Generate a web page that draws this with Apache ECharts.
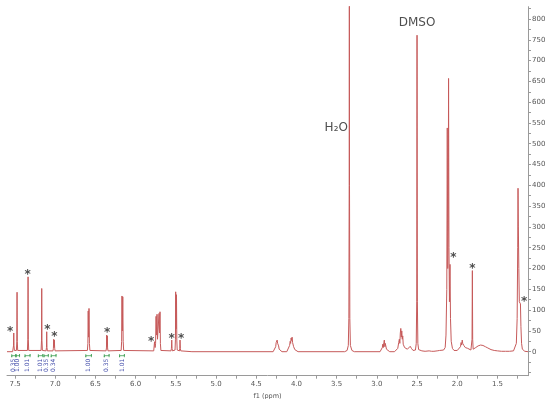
<!DOCTYPE html>
<html>
<head>
<meta charset="utf-8">
<script src="https://cdn.jsdelivr.net/npm/echarts@6/dist/echarts.min.js"></script>
<style>html,body{margin:0;padding:0;background:#fff}#c{width:550px;height:399px}</style>
</head>
<body>
<div id="c"></div>
<script>
// spectrum points [ppm, intensity]
const spectrum = [
[7.60,0],[7.53,0],
[7.524,3],[7.519,14],[7.516,45],[7.513,14],[7.508,3],
[7.483,3],[7.478,24],[7.475,143],[7.472,24],[7.467,3],
[7.346,3],[7.341,30],[7.338,180],[7.335,30],[7.330,3],
[7.176,3],[7.171,26],[7.168,152],[7.165,26],[7.160,3],
[7.114,2],[7.109,10],[7.106,48],[7.103,10],[7.098,2],
[7.028,2],[7.023,8],[7.019,30],[7.015,12],[7.011,28],[7.007,8],[7.002,2],
[6.600,3],[6.594,20],[6.590,98],[6.585,35],[6.580,104],[6.575,20],[6.569,3],
[6.368,2],[6.363,9],[6.360,40],[6.356,16],[6.352,38],[6.349,9],[6.344,2],
[6.180,3],[6.174,25],[6.170,134],[6.165,50],[6.160,132],[6.155,25],[6.149,3],
[5.775,2],[5.769,6],[5.765,24],[5.758,10],[5.752,20],[5.746,85],[5.740,40],[5.734,90],[5.728,30],[5.722,30],[5.716,32],[5.709,92],[5.703,45],[5.697,96],[5.692,20],[5.686,3],
[5.560,2],[5.555,8],[5.551,28],[5.547,8],[5.542,2],
[5.510,4],[5.505,30],[5.502,144],[5.497,55],[5.492,137],[5.488,28],[5.483,4],
[5.455,2],[5.451,8],[5.448,28],[5.444,8],[5.439,2],
[5.30,0],[4.29,0],[4.27,3],[4.258,12],[4.252,22],[4.246,18],[4.240,28],[4.234,20],[4.228,24],[4.222,14],[4.215,6],[4.20,2],[4.18,0],
[4.12,0],[4.10,4],[4.085,15],[4.078,25],[4.072,20],[4.066,33],[4.060,27],[4.054,35],[4.048,22],[4.042,25],[4.035,12],[4.02,5],[4.00,1],[3.98,0],
[3.40,0],[3.37,3],[3.355,15],[3.348,80],[3.344,400],[3.342,1000],[3.340,400],[3.336,80],[3.329,15],[3.31,3],[3.28,0],
[2.96,0],[2.94,3],[2.932,10],[2.926,18],[2.920,10],[2.913,22],[2.907,28],[2.900,12],[2.895,20],[2.888,16],[2.880,6],[2.86,2],[2.84,0],
[2.78,0],[2.76,3],[2.74,8],[2.728,22],[2.720,30],[2.714,20],[2.708,45],[2.702,56],[2.696,35],[2.690,50],[2.684,30],[2.678,38],[2.672,18],[2.665,22],[2.655,10],[2.64,12],[2.62,6],[2.60,10],[2.585,13],[2.57,8],[2.55,3],[2.53,2],
[2.52,4],[2.51,20],[2.504,120],[2.500,761],[2.496,120],[2.49,20],[2.48,5],[2.46,3],[2.44,2],
[2.40,1],[2.35,2],[2.32,1],[2.30,4],[2.29,1],[2.25,2],[2.22,3],[2.20,1],[2.17,4],
[2.15,10],[2.14,40],[2.13,150],[2.124,538],[2.118,200],[2.112,300],[2.108,657],[2.103,250],[2.097,120],[2.090,210],[2.084,80],[2.075,25],[2.06,8],[2.04,3],[2.02,2],
[2.00,3],[1.98,6],[1.96,12],[1.952,22],[1.945,16],[1.938,28],[1.932,20],[1.925,24],[1.918,15],[1.910,18],[1.900,10],[1.885,14],[1.87,8],[1.85,5],[1.83,4],
[1.822,6],[1.816,30],[1.812,195],[1.808,30],[1.802,6],
[1.79,6],[1.77,10],[1.74,14],[1.71,16],[1.68,15],[1.65,12],[1.62,9],[1.58,5],[1.54,3],[1.50,2],[1.45,1],[1.40,1],[1.35,1],[1.30,2],
[1.28,5],[1.265,20],[1.255,80],[1.248,250],[1.244,393],[1.240,300],[1.234,200],[1.228,120],[1.220,118],[1.214,115],[1.208,60],[1.200,20],[1.19,6],[1.18,3],[1.16,1],[1.12,0]
];
// asterisk marks [ppm, intensity]
const stars = [[7.562,54],[7.342,192],[7.098,59],[7.011,43],[6.356,52],[5.808,30],[5.551,38],[5.435,38],[2.048,232],[1.812,207],[1.169,127]];
// solvent labels [ppm, intensity, text]
const solventLabels = [[3.505,538,'H₂O'],[2.50,790,'DMSO']];
// integrals [from ppm, to ppm, value]
const integrals = [[7.541,7.490,'0.35'],[7.488,7.444,'1.00'],[7.376,7.313,'1.01'],[7.210,7.155,'1.01'],[7.140,7.086,'0.35'],[7.050,6.990,'0.34'],[6.620,6.550,'1.00'],[6.390,6.330,'0.35'],[6.200,6.140,'1.01']];
// axis ticks
const xLabels = [7.5,7.0,6.5,6.0,5.5,5.0,4.5,4.0,3.5,3.0,2.5,2.0,1.5];
const xTicks = [7.5,7.25,7.0,6.75,6.5,6.25,6.0,5.75,5.5,5.25,5.0,4.75,4.5,4.25,4.0,3.75,3.5,3.25,3.0,2.75,2.5,2.25,2.0,1.75,1.5,1.25];
const yLabels = [0,50,100,150,200,250,300,350,400,450,500,550,600,650,700,750,800];
const yTicks = [-50,-25,0,25,50,75,100,125,150,175,200,225,250,275,300,325,350,375,400,425,450,475,500,525,550,575,600,625,650,675,700,725,750,775,800,825];

const chart = echarts.init(document.getElementById('c'), null, {renderer:'canvas'});
const axisGrey = '#9a9a9a';
chart.setOption({
  animation:false,
  grid:{left:7,right:22,top:6.7,bottom:23.3,containLabel:false,outerBoundsMode:'none'},
  xAxis:{type:'value',inverse:true,min:1.12,max:7.6,
    axisLine:{onZero:false,lineStyle:{color:axisGrey,width:1}},
    axisTick:{customValues:xTicks,length:3,lineStyle:{color:axisGrey}},
    axisLabel:{customValues:xLabels,formatter:v=>v.toFixed(1),fontSize:7,color:'#555',margin:5,fontFamily:'DejaVu Sans'},
    splitLine:{show:false},
    name:'f1 (ppm)',nameLocation:'middle',nameGap:14,nameTextStyle:{fontSize:6.5,color:'#555',fontFamily:'DejaVu Sans'}
  },
  yAxis:{type:'value',position:'right',min:-57.7,max:829.5,
    axisLine:{show:true,lineStyle:{color:axisGrey,width:1}},
    axisTick:{show:true,customValues:yTicks,length:3,lineStyle:{color:axisGrey}},
    axisLabel:{customValues:yLabels,fontSize:7,color:'#555',margin:4,fontFamily:'DejaVu Sans'},
    splitLine:{show:false}
  },
  series:[
    {type:'line',data:spectrum,showSymbol:false,symbol:'none',clip:true,
     lineStyle:{color:'#c65a5a',width:1},z:2},
    {type:'scatter',data:stars,symbolSize:1,itemStyle:{color:'rgba(0,0,0,0)'},
     label:{show:true,position:'inside',formatter:'*',fontSize:12,fontWeight:'bold',color:'#222',offset:[0,3],fontFamily:'DejaVu Sans'},z:3},
    {type:'scatter',data:solventLabels,symbolSize:1,itemStyle:{color:'rgba(0,0,0,0)'},
     label:{show:true,position:'inside',formatter:p=>p.data[2],fontSize:12,color:'#222',fontFamily:'DejaVu Sans'},z:3},
    {type:'custom',data:integrals,z:3,
     renderItem:function(params,api){
       const a = api.coord([api.value(0),0]);
       const b = api.coord([api.value(1),0]);
       const y = a[1]+4;
       const mid = (a[0]+b[0])/2;
       return {type:'group',children:[
         {type:'polyline',shape:{points:[[a[0],y-1.5],[a[0],y+1.5],[a[0],y],[b[0],y],[b[0],y-1.5],[b[0],y+1.5]]},style:{stroke:'#3a9d4f',lineWidth:0.8,fill:null}},
         {type:'text',x:mid,y:y+3,rotation:Math.PI/2,style:{text:integrals[params.dataIndex][2],fontSize:6,fill:'#3d48a8',align:'right',verticalAlign:'middle',fontFamily:'DejaVu Sans'}}
       ]};
     }}
  ]
});
</script>
</body>
</html>
